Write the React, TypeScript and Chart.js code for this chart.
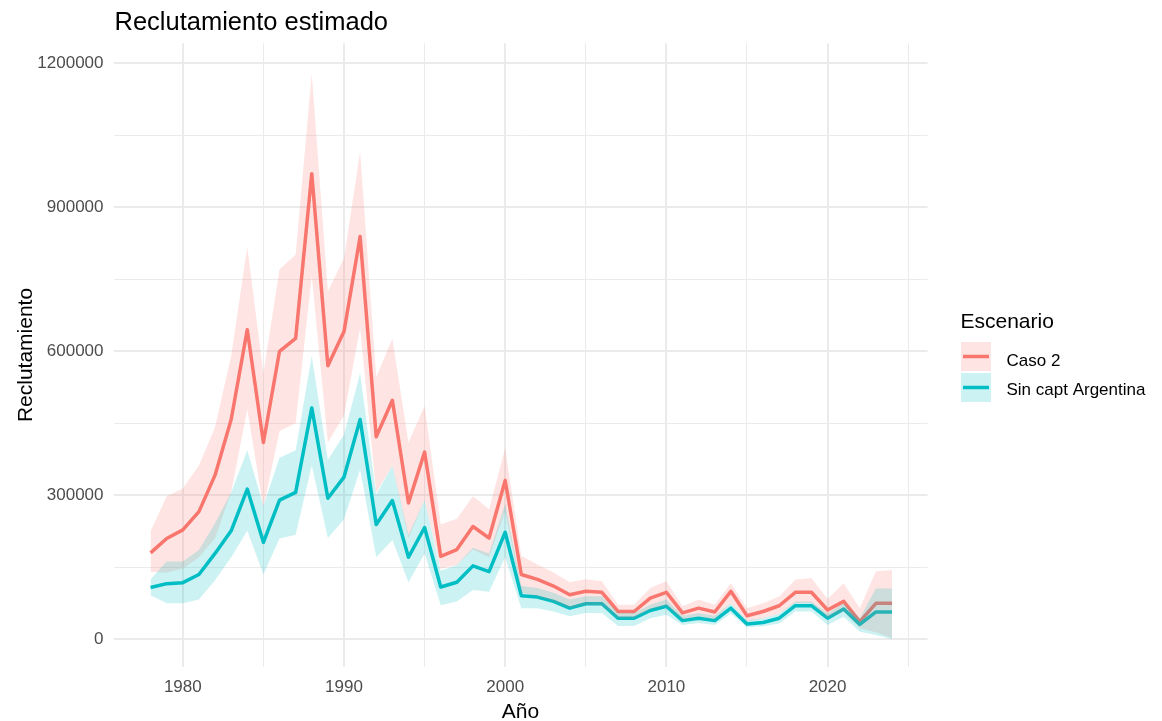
import React, { useEffect, useRef } from "react";
import { Chart, registerables } from "chart.js";

Chart.register(...registerables);

const TITLE = "Reclutamiento estimado";
const X_TITLE = "Año";
const Y_TITLE = "Reclutamiento";
const LEGEND_TITLE = "Escenario";
const SERIES_NAMES = ["Caso 2", "Sin capt Argentina"];

const years = [
  1978, 1979, 1980, 1981, 1982, 1983, 1984, 1985, 1986, 1987,
  1988, 1989, 1990, 1991, 1992, 1993, 1994, 1995, 1996, 1997,
  1998, 1999, 2000, 2001, 2002, 2003, 2004, 2005, 2006, 2007,
  2008, 2009, 2010, 2011, 2012, 2013, 2014, 2015, 2016, 2017,
  2018, 2019, 2020, 2021, 2022, 2023, 2024,
];

const caso2 = [
  180000, 210000, 228000, 266000, 342000, 458000, 645000, 410000, 600000, 627000,
  970000, 570000, 641000, 839000, 422000, 498000, 284000, 390000, 173000, 187000,
  235000, 211000, 331000, 135000, 125000, 111000, 93000, 100000, 98000, 58000,
  58000, 86000, 98000, 55000, 65000, 57000, 100000, 49000, 58000, 70000,
  98000, 98000, 61000, 79000, 37000, 75000, 75000,
];
const caso2Upper = [
  225000, 298000, 314000, 362000, 442000, 590000, 817000, 554000, 771000, 801000,
  1178000, 725000, 793000, 1016000, 546000, 626000, 410000, 486000, 239000, 251000,
  298000, 271000, 398000, 174000, 156000, 139000, 119000, 125000, 121000, 72000,
  72000, 107000, 121000, 69000, 83000, 72000, 117000, 65000, 75000, 89000,
  124000, 128000, 84000, 117000, 65000, 142000, 144000,
];
const caso2Lower = [
  140000, 139000, 147000, 171000, 211000, 306000, 479000, 274000, 434000, 450000,
  757000, 410000, 466000, 649000, 306000, 362000, 211000, 290000, 147000, 155000,
  187000, 171000, 267000, 97000, 90000, 79000, 65000, 72000, 70000, 44000,
  44000, 62000, 70000, 41000, 48000, 41000, 75000, 37000, 44000, 54000,
  75000, 75000, 44000, 58000, 23000, 15000, 3000,
];

const sinCapt = [
  108000, 116000, 118000, 135000, 179000, 226000, 313000, 202000, 290000, 306000,
  482000, 294000, 338000, 458000, 239000, 289000, 171000, 233000, 109000, 119000,
  153000, 141000, 223000, 91000, 88000, 79000, 65000, 74000, 74000, 44000,
  44000, 60000, 69000, 39000, 44000, 39000, 65000, 32000, 35000, 44000,
  70000, 70000, 44000, 63000, 31000, 57000, 57000,
];
const sinCaptUpper = [
  125000, 162000, 162000, 186000, 242000, 306000, 394000, 278000, 378000, 394000,
  590000, 374000, 426000, 554000, 302000, 362000, 218000, 290000, 143000, 155000,
  191000, 179000, 282000, 111000, 107000, 97000, 83000, 90000, 90000, 55000,
  55000, 72000, 83000, 49000, 55000, 49000, 75000, 40000, 44000, 54000,
  79000, 79000, 54000, 75000, 44000, 106000, 106000,
];
const sinCaptLower = [
  92000, 75000, 75000, 83000, 123000, 171000, 226000, 135000, 210000, 218000,
  362000, 211000, 250000, 354000, 171000, 207000, 119000, 179000, 71000, 79000,
  103000, 99000, 171000, 65000, 65000, 58000, 48000, 55000, 55000, 28000,
  28000, 44000, 51000, 30000, 34000, 30000, 54000, 25000, 27000, 33000,
  58000, 58000, 30000, 47000, 16000, 9000, 0,
];

const xTicks = [1980, 1985, 1990, 1995, 2000, 2005, 2010, 2015, 2020, 2025];
const yTicks = [0, 150000, 300000, 450000, 600000, 750000, 900000, 1050000, 1200000];

const PINK = "#F8766D";
const CYAN = "#00BFC4";
const PINK_FILL = "rgba(248,118,109,0.2)";
const CYAN_FILL = "rgba(0,191,196,0.2)";
const FONT = '"Liberation Sans", Arial, Helvetica, sans-serif';

const toPts = (arr: number[]) => years.map((x, i) => ({ x, y: arr[i] }));

const decorPlugin = {
  id: "decor",
  afterDraw(chart: any) {
    const ctx = chart.ctx as CanvasRenderingContext2D;
    const ca = chart.chartArea;
    ctx.save();
    ctx.fillStyle = "#000000";
    ctx.textBaseline = "alphabetic";

    // title
    ctx.font = `25.5px ${FONT}`;
    ctx.textAlign = "left";
    ctx.fillText(TITLE, ca.left + 1, 30);

    // x title
    ctx.font = `21px ${FONT}`;
    ctx.textAlign = "center";
    ctx.fillText(X_TITLE, (ca.left + ca.right) / 2, 717.5);

    // y title
    ctx.save();
    ctx.translate(31.5, (ca.top + ca.bottom) / 2);
    ctx.rotate(-Math.PI / 2);
    ctx.fillText(Y_TITLE, 0, 0);
    ctx.restore();

    // legend
    ctx.textAlign = "left";
    ctx.font = `21px ${FONT}`;
    ctx.fillText(LEGEND_TITLE, 960.5, 328.3);

    const keys = [
      { fill: PINK_FILL, line: PINK, top: 342, base: 366 },
      { fill: CYAN_FILL, line: CYAN, top: 373, base: 395 },
    ];
    ctx.font = `17px ${FONT}`;
    keys.forEach((k, i) => {
      ctx.fillStyle = k.fill;
      ctx.fillRect(961, k.top, 30, 29);
      ctx.strokeStyle = k.line;
      ctx.lineWidth = 3.5;
      ctx.beginPath();
      ctx.moveTo(963, k.top + 14.5);
      ctx.lineTo(989, k.top + 14.5);
      ctx.stroke();
      ctx.fillStyle = "#000000";
      ctx.fillText(SERIES_NAMES[i], 1006.5, k.base);
    });
    ctx.restore();
  },
};

export default function App() {
  const canvasRef = useRef<HTMLCanvasElement | null>(null);

  useEffect(() => {
    const canvas = canvasRef.current;
    if (!canvas) return;
    Chart.defaults.font.family = FONT;

    const lineCommon = {
      pointRadius: 0,
      pointHoverRadius: 0,
      tension: 0,
    };

    const chart = new Chart(canvas, {
      type: "line",
      data: {
        datasets: [
          {
            label: SERIES_NAMES[1] + " upper",
            data: toPts(sinCaptUpper),
            borderWidth: 0,
            borderColor: "transparent",
            backgroundColor: CYAN_FILL,
            fill: "+1",
            order: 0,
            ...lineCommon,
          },
          {
            label: SERIES_NAMES[1] + " lower",
            data: toPts(sinCaptLower),
            borderWidth: 0,
            borderColor: "transparent",
            fill: false,
            order: 1,
            ...lineCommon,
          },
          {
            label: SERIES_NAMES[0] + " upper",
            data: toPts(caso2Upper),
            borderWidth: 0,
            borderColor: "transparent",
            backgroundColor: PINK_FILL,
            fill: "+1",
            order: 2,
            ...lineCommon,
          },
          {
            label: SERIES_NAMES[0] + " lower",
            data: toPts(caso2Lower),
            borderWidth: 0,
            borderColor: "transparent",
            fill: false,
            order: 3,
            ...lineCommon,
          },
          {
            label: SERIES_NAMES[1],
            data: toPts(sinCapt),
            borderWidth: 3.5,
            borderColor: CYAN,
            borderJoinStyle: "round",
            fill: false,
            order: 4,
            ...lineCommon,
          },
          {
            label: SERIES_NAMES[0],
            data: toPts(caso2),
            borderWidth: 3.5,
            borderColor: PINK,
            borderJoinStyle: "round",
            fill: false,
            order: 5,
            ...lineCommon,
          },
        ],
      },
      options: {
        animation: false,
        responsive: false,
        devicePixelRatio: 1,
        layout: { padding: { left: 0, top: 43.3, right: 234.5, bottom: 0 } },
        plugins: {
          legend: { display: false },
          title: { display: false },
          tooltip: { enabled: false },
        },
        scales: {
          x: {
            type: "linear",
            min: 1975.7,
            max: 2026.2,
            afterBuildTicks: (s: any) => {
              s.ticks = xTicks.map((v) => ({ value: v }));
            },
            afterFit: (s: any) => {
              s.height = 54.3;
            },
            ticks: {
              autoSkip: false,
              maxRotation: 0,
              padding: 10.6,
              color: "#4d4d4d",
              font: { size: 17 },
              callback: (v: any) => (Number(v) % 10 === 0 ? String(v) : ""),
            },
            grid: {
              color: "#ebebeb",
              drawTicks: false,
              lineWidth: (c: any) => (c.tick && c.tick.value % 10 === 0 ? 2 : 1),
            },
            border: { display: false },
          },
          y: {
            type: "linear",
            min: -57000,
            max: 1241500,
            afterBuildTicks: (s: any) => {
              s.ticks = yTicks.map((v) => ({ value: v }));
            },
            afterFit: (s: any) => {
              s.width = 113.5;
            },
            ticks: {
              autoSkip: false,
              padding: 10,
              color: "#4d4d4d",
              font: { size: 17 },
              callback: (v: any) => (Number(v) % 300000 === 0 ? String(v) : ""),
            },
            grid: {
              color: "#ebebeb",
              drawTicks: false,
              lineWidth: (c: any) => (c.tick && c.tick.value % 300000 === 0 ? 2 : 1),
            },
            border: { display: false },
          },
        },
      },
      plugins: [decorPlugin],
    } as any);

    return () => {
      chart.destroy();
    };
  }, []);

  return (
    <div style={{ position: "fixed", left: 0, top: 0, width: 1162, height: 721, background: "#ffffff" }}>
      <canvas ref={canvasRef} width={1162} height={721} style={{ display: "block" }} />
    </div>
  );
}
